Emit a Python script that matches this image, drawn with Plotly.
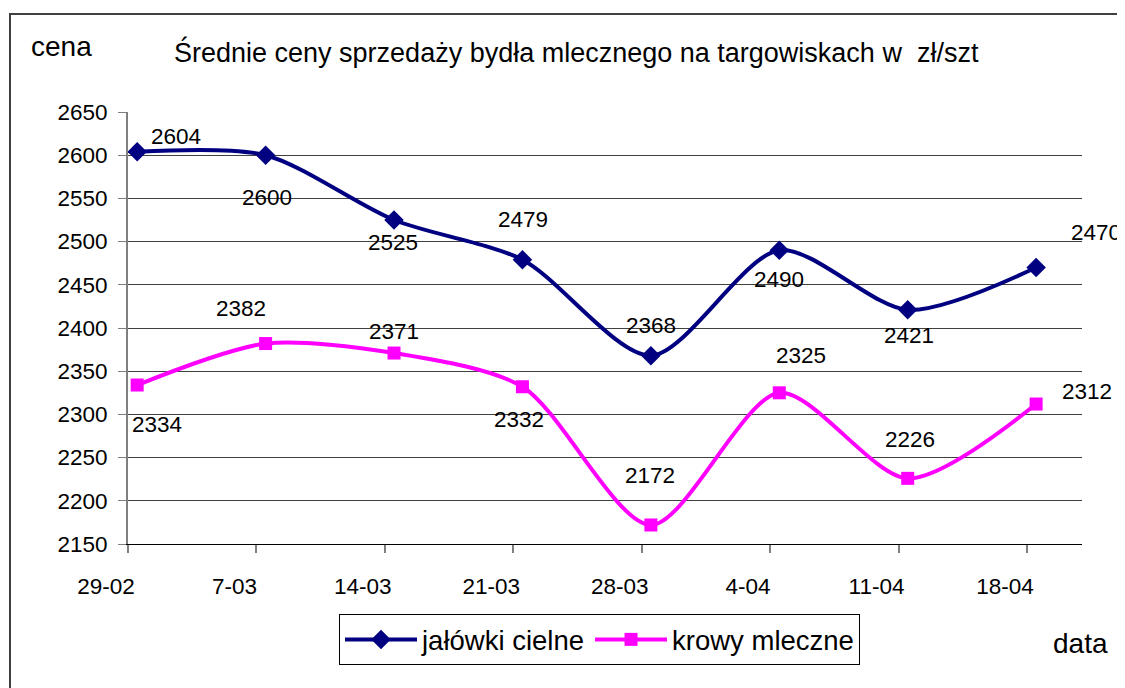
import plotly.graph_objects as go
import pandas as pd

# ---- data ----
dates = ["2004-02-29", "2004-03-07", "2004-03-14", "2004-03-21",
         "2004-03-28", "2004-04-04", "2004-04-11", "2004-04-18"]
tick_labels = ["29-02", "7-03", "14-03", "21-03", "28-03", "4-04", "11-04", "18-04"]
jalowki = [2604, 2600, 2525, 2479, 2368, 2490, 2421, 2470]
krowy = [2334, 2382, 2371, 2332, 2172, 2325, 2226, 2312]
series_names = ["jałówki cielne", "krowy mleczne"]
title_text = "Średnie ceny sprzedaży bydła mlecznego na targowiskach w  zł/szt"

# ---- layout geometry (pixels in the screenshot) ----
PAGE_OFF = 8  # default body margin of the html page
W, H = 1125 - PAGE_OFF, 688 - PAGE_OFF
L, R, T, B = 128, 1082, 112, 544
pw, ph = R - L, B - T


def px(x):
    return (x - L) / pw


def py(y):
    return (B - y) / ph


FONT = "Liberation Sans, Arial, sans-serif"
NAVY = "#000080"
PINK = "#FF00FF"

d = pd.to_datetime(dates)
xpts = d + pd.Timedelta(hours=12)  # points centred within their day slot

fig = go.Figure()
fig.add_trace(go.Scatter(
    x=xpts, y=jalowki, name=series_names[0], mode="lines+markers",
    line=dict(color=NAVY, width=4, shape="spline", smoothing=0.8),
    marker=dict(symbol="diamond", size=15, color=NAVY),
))
fig.add_trace(go.Scatter(
    x=xpts, y=krowy, name=series_names[1], mode="lines+markers",
    line=dict(color=PINK, width=4, shape="spline", smoothing=0.8),
    marker=dict(symbol="square", size=13, color=PINK),
))

# data label offsets (pixels: dx, dy up)
off_j = [(39, 15), (1, -42), (-1, -22), (1, 40), (0, 30), (0, -29), (1, -26), (60, 35)]
off_k = [(20, -39), (-25, 35), (0, 22), (-3, -33), (-1, 49), (22, 37), (2, 39), (51, 13)]
ann = []
for xs, ys, offs in ((xpts, jalowki, off_j), (xpts, krowy, off_k)):
    for xv, yv, (dx, dy) in zip(xs, ys, offs):
        ann.append(dict(x=xv, y=yv, xref="x", yref="y", text=str(yv),
                        showarrow=False, xshift=dx, yshift=dy,
                        font=dict(family=FONT, size=22.5, color="black")))

ann.append(dict(x=px(172), y=py(52), xref="paper", yref="paper", text=title_text,
                showarrow=False, xanchor="left", yanchor="middle",
                font=dict(family=FONT, size=27, color="black")))
ann.append(dict(x=px(61), y=py(47), xref="paper", yref="paper", text="cena",
                showarrow=False, xanchor="center", yanchor="middle",
                font=dict(family=FONT, size=28, color="black")))
ann.append(dict(x=px(1080), y=py(643), xref="paper", yref="paper", text="data",
                showarrow=False, xanchor="center", yanchor="middle",
                font=dict(family=FONT, size=28, color="black")))

shapes = [dict(type="rect", xref="paper", yref="paper",
               x0=px(10), x1=px(1200), y0=py(14), y1=py(760),
               line=dict(color="#404040", width=2), layer="below")]

fig.update_layout(
    width=W, height=H,
    margin=dict(l=L - PAGE_OFF, r=W - (R - PAGE_OFF), t=T - PAGE_OFF, b=H - (B - PAGE_OFF)),
    paper_bgcolor="white", plot_bgcolor="white",
    font=dict(family=FONT, size=22, color="black"),
    showlegend=True,
    legend=dict(orientation="h", x=px(339), y=py(614), xanchor="left", yanchor="top",
                bordercolor="black", borderwidth=1, bgcolor="white",
                font=dict(family=FONT, size=27.5, color="black"),
                itemwidth=72, tracegroupgap=0),
    annotations=ann, shapes=shapes,
    xaxis=dict(type="date", range=["2004-02-29", "2004-04-21"],
               tickvals=d, ticktext=tick_labels, ticks="outside", ticklen=8,
               tickcolor="#808080", tickwidth=2, ticklabelshift=-22, ticklabelstandoff=14,
               showgrid=False, showline=True, linecolor="black", linewidth=1,
               zeroline=False, tickfont=dict(family=FONT, size=22.5, color="black")),
    yaxis=dict(range=[2150, 2650], dtick=50, tick0=2150, ticks="outside", ticklen=8,
               tickcolor="#808080", showgrid=True, gridcolor="#404040", gridwidth=1,
               showline=True, linecolor="#808080", linewidth=2, zeroline=False,
               ticklabelstandoff=6, tickfont=dict(family=FONT, size=22.5, color="black")),
)

fig.write_html("out.html")
